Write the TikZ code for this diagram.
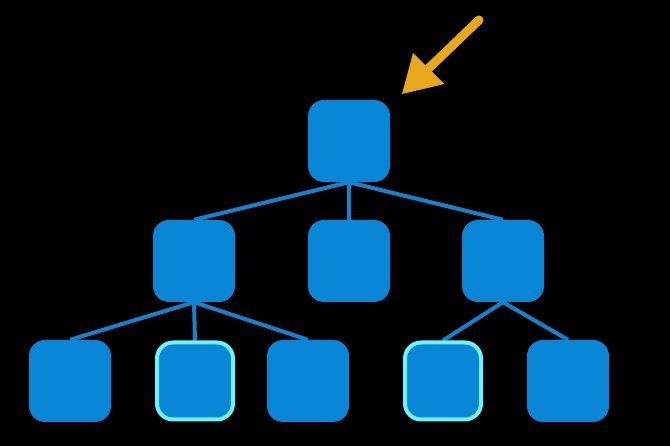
\documentclass[tikz,border=0pt]{standalone}
\usetikzlibrary{backgrounds}
\definecolor{boxblue}{HTML}{0987D6}
\definecolor{edgeblue}{HTML}{1482CC}
\definecolor{glowcyan}{HTML}{6FF4FF}
\definecolor{arrowgold}{HTML}{E9A81C}
\begin{document}
\begin{tikzpicture}[x=1pt,y=-1pt,
  treebox/.style={fill=boxblue,draw=none,rounded corners=16pt,minimum width=82pt,minimum height=82pt,inner sep=0pt},
  hlbox/.style={treebox,draw=glowcyan,line width=4pt,minimum width=76pt,minimum height=77pt},
  branch/.style={draw=edgeblue,line width=4pt}]
% nodes
\node[treebox] (root) at (349,141) {};
\node[treebox] (l) at (194,261) {};
\node[treebox] (m) at (349,261) {};
\node[treebox] (r) at (503,261) {};
\node[treebox] (a) at (70,381) {};
\node[hlbox] (b) at (195,381) {};
\node[treebox] (c) at (308,381) {};
\node[hlbox] (d) at (443,381) {};
\node[treebox] (e) at (568,381) {};
% arrow
\coordinate (tail) at (479,20);
\coordinate (tip) at (402,94);
\coordinate (base) at (428,69);
\coordinate (w1) at (444.5,84);
\coordinate (w2) at (413,53);
\draw[arrowgold,line width=9pt,line cap=round] (tail) -- (base);
\fill[arrowgold] (tip) -- (w1) -- (w2) -- cycle;
% edges behind boxes
\begin{scope}[on background layer]
\fill[black] (0,0) rectangle (670,446);
\draw[branch] (root.south) -- (l.north);
\draw[branch] (root.south) -- (m.north);
\draw[branch] (root.south) -- (r.north);
\draw[branch] (l.south) -- (a.north);
\draw[branch] (l.south) -- (b.north);
\draw[branch] (l.south) -- (c.north);
\draw[branch] (r.south) -- (d.north);
\draw[branch] (r.south) -- (e.north);
\end{scope}
\useasboundingbox (0,0) rectangle (670,446);
\end{tikzpicture}
\end{document}
